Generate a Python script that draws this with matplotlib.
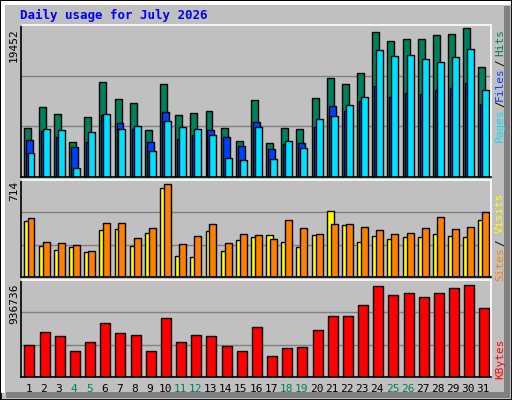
import matplotlib
matplotlib.use("Agg")
import matplotlib.pyplot as plt
import numpy as np

days = np.arange(1, 32)
weekend = [4, 5, 11, 12, 18, 19, 25, 26]

hits = [6440, 9200, 8280, 4600, 7890, 12350, 10120, 9720, 6180, 12090, 8150, 8410, 8670, 6440, 4730, 9990,
        4470, 6440, 6310, 10380, 12880, 12090, 13540, 18920, 17740, 18000, 18000, 18530, 18660, 19452, 14320]
files = [4860, 6040, 5260, 3940, 4600, 8150, 7100, 6310, 4600, 8540, 4990, 5520, 6180, 5260, 4070, 7230,
         3680, 4340, 4470, 6570, 9330, 8670, 9860, 11830, 10510, 10910, 10780, 11300, 11560, 12220, 9590]
pages = [3150, 6310, 6180, 1180, 5910, 8280, 6310, 6700, 3420, 7360, 6570, 6310, 5520, 2500, 2230, 6570,
         2370, 4730, 3810, 7620, 8020, 9460, 10510, 16560, 15770, 15900, 15370, 14980, 15640, 16690, 11300]
sites = [427, 235, 204, 228, 189, 360, 367, 235, 336, 683, 158, 150, 352, 197, 282, 305,
         321, 266, 228, 321, 507, 398, 266, 313, 290, 305, 305, 329, 313, 305, 437]
visits = [453, 266, 259, 243, 197, 414, 414, 298, 375, 714, 251, 313, 406, 259, 329, 321,
          290, 437, 375, 329, 406, 406, 383, 360, 329, 336, 375, 460, 367, 383, 499]
kbytes = [330000, 456000, 416000, 262000, 354000, 548000, 446000, 426000, 262000, 600000, 354000, 426000,
          416000, 313000, 262000, 508000, 211000, 293000, 303000, 477000, 620000, 620000, 732000, 926000,
          834000, 855000, 814000, 855000, 906000, 936736, 702000]

W, H = 512, 400
bg = "#c0c0c0"
mono = "DejaVu Sans Mono"

fig = plt.figure(figsize=(W / 100, H / 100), dpi=100, facecolor=bg)

# outer frame with 3d-ish shading
frame = fig.add_axes([0, 0, 1, 1])
frame.set_xlim(0, W)
frame.set_ylim(H, 0)
frame.axis("off")
frame.add_patch(plt.Rectangle((0, 0), W, H, fc=bg, ec="black", lw=2))
frame.add_patch(plt.Rectangle((504, 6), 6, 392, fc="#808080", ec="none"))
frame.add_patch(plt.Rectangle((6, 392), 504, 6, fc="#808080", ec="none"))
frame.add_patch(plt.Rectangle((1, 1), W - 2, 4, fc="white", ec="none"))
frame.add_patch(plt.Rectangle((1, 1), 4, H - 8, fc="white", ec="none"))


def panel(top, bottom, left=21, right=491):
    ax = fig.add_axes([left / W, 1 - bottom / H, (right - left) / W, (bottom - top) / H])
    ax.set_facecolor(bg)
    ax.set_xlim(0.5, 31.5)
    ax.set_xticks([])
    ax.set_yticks([])
    for s in ["left", "bottom"]:
        ax.spines[s].set_color("black")
    for s in ["top", "right"]:
        ax.spines[s].set_color("white")
    for s in ax.spines.values():
        s.set_linewidth(1.2)
    return ax


bkw = dict(align="edge", edgecolor="black", linewidth=1.0)

ax1 = panel(25, 177)
ax1.set_ylim(0, 19452 * 151 / 148)
for g in [1 / 3, 2 / 3]:
    ax1.axhline(19452 * 151 / 148 * g, color="#808080", lw=1, zorder=0)
ax1.bar(days - 0.33, hits, width=0.46, color="#00805c", **bkw)
ax1.bar(days - 0.2, files, width=0.46, color="#0040ff", **bkw)
ax1.bar(days - 0.07, pages, width=0.46, color="#00e0ff", **bkw)

ax2 = panel(180, 277)
ax2.set_ylim(0, 714 * 96 / 92)
for g in [1 / 3, 2 / 3]:
    ax2.axhline(714 * 96 / 92 * g, color="#808080", lw=1, zorder=0)
ax2.bar(days - 0.33, sites, width=0.46, color="#ffff00", **bkw)
ax2.bar(days - 0.07, visits, width=0.46, color="#ff8000", **bkw)

ax3 = panel(280, 377)
ax3.set_ylim(0, 936736 * 97 / 92)
for g in [1 / 3, 2 / 3]:
    ax3.axhline(936736 * 97 / 92 * g, color="#808080", lw=1, zorder=0)
ax3.bar(days - 0.27, kbytes, width=0.66, color="#ff0000", **bkw)


def px(x, y):
    return x / W, 1 - y / H


fig.text(*px(20, 15), "Daily usage for July 2026", color="#0000ff", family=mono,
         fontweight="bold", fontsize=9, va="center", ha="left")

for y, s in [(28, "19452"), (181, "714"), (283, "936736")]:
    fig.text(*px(14, y), s, rotation=90, family=mono, fontsize=8, ha="center", va="top")

for d in days:
    xx = 21 + (d - 0.5) * 470 / 31
    fig.text(*px(xx, 389), str(d), family=mono, fontsize=8, ha="center", va="center",
             color="#00805c" if d in weekend else "black")

side = [(125, "Pages", "#00e0ff"), (104, "/", "black"), (84, "Files", "#0040ff"),
        (63, "/", "black"), (42, "Hits", "#00805c"),
        (264, "Sites", "#ff8000"), (243, "/", "black"), (213, "Visits", "#ffff00"),
        (359, "KBytes", "#ff0000")]
for y, s, c in side:
    fig.text(*px(500, y), s, rotation=90, family=mono, fontsize=8, color=c,
             ha="center", va="center")

fig.savefig("out.png", dpi=100, facecolor=bg)
